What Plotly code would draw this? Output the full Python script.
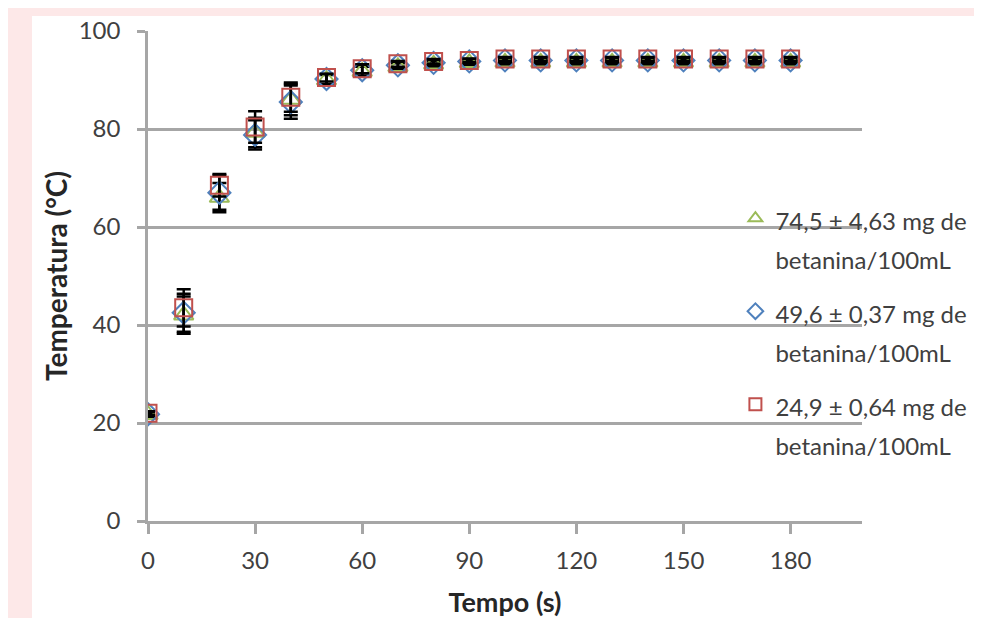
import plotly.graph_objects as go

tempo = [0, 10, 20, 30, 40, 50, 60, 70, 80, 90, 100, 110, 120, 130, 140, 150, 160, 170, 180]

names = [
    "74,5 ± 4,63 mg de<br>betanina/100mL",
    "49,6 ± 0,37 mg de<br>betanina/100mL",
    "24,9 ± 0,64 mg de<br>betanina/100mL",
]
temp_745 = [21.7, 42.0, 66.0, 79.3, 86.0, 90.0, 91.7, 92.7, 93.2, 93.5, 93.6, 93.6, 93.6, 93.6, 93.6, 93.6, 93.6, 93.6, 93.6]
err_745 = [0.4, 3.8, 3.0, 3.0, 3.2, 1.0, 1.0, 0.7, 0.6, 0.5, 0.5, 0.5, 0.5, 0.5, 0.5, 0.5, 0.5, 0.5, 0.5]
temp_496 = [21.8, 42.5, 67.0, 78.8, 85.5, 90.2, 92.0, 93.0, 93.5, 93.8, 94.0, 94.0, 94.0, 94.0, 94.0, 94.0, 94.0, 94.0, 94.0]
err_496 = [0.4, 3.9, 3.5, 3.0, 3.4, 1.0, 1.1, 0.7, 0.6, 0.5, 0.5, 0.5, 0.5, 0.5, 0.5, 0.5, 0.5, 0.5, 0.5]
temp_249 = [22.0, 43.5, 68.5, 80.4, 86.5, 90.5, 92.3, 93.3, 93.8, 94.0, 94.3, 94.3, 94.3, 94.3, 94.3, 94.3, 94.3, 94.3, 94.3]
err_249 = [0.4, 3.8, 2.3, 3.2, 3.0, 0.8, 0.9, 0.6, 0.5, 0.4, 0.4, 0.4, 0.4, 0.4, 0.4, 0.4, 0.4, 0.4, 0.4]

series = [
    (names[0], temp_745, err_745, "triangle-up-open", "#9bbb59"),
    (names[1], temp_496, err_496, "diamond-open", "#4f81bd"),
    (names[2], temp_249, err_249, "square-open", "#c0504d"),
]

FONT = "Lato, Open Sans, sans-serif"

fig = go.Figure()
for i, (nm, ys, es, sym, col) in enumerate(series):
    label = "<br>".join("<span style='font-size:24px'>%s</span>" % part for part in nm.split("<br>"))
    fig.add_trace(go.Scatter(
        x=tempo, y=ys, mode="markers", name=label, legendgroup="g%d" % i,
        marker=dict(symbol=sym, size=17, color=col, line=dict(width=2, color=col)),
        error_y=dict(type="data", array=es, visible=True, color="black", thickness=2.5, width=7),
    ))

fig.update_layout(
    width=974, height=610,
    margin=dict(l=140, r=120, t=23, b=97, autoexpand=False),
    paper_bgcolor="#fde8e8",
    plot_bgcolor="white",
    font=dict(family=FONT, color="#404040", size=24),
    showlegend=True,
    legend=dict(
        x=0.8227, xanchor="left", y=0.671, yanchor="top",
        bgcolor="rgba(0,0,0,0)", font=dict(size=30, color="#404040", family=FONT),
        tracegroupgap=12, valign="top", itemsizing="constant",
    ),
    shapes=[dict(type="rect", xref="paper", yref="paper",
                 x0=-0.1625, x1=1.3, y0=-0.3, y1=1.0306,
                 fillcolor="white", line=dict(width=0), layer="below")],
)
fig.update_xaxes(
    range=[0, 200], tickvals=[0, 30, 60, 90, 120, 150, 180],
    showgrid=False, showline=True, linecolor="#a6a6a6", linewidth=2.5,
    ticks="outside", ticklen=10, tickwidth=2.5, tickcolor="#a6a6a6",
    tickfont=dict(size=24, color="#404040"), ticklabelstandoff=6,
    title=dict(text="<b>Tempo (s)</b>", font=dict(size=27, color="#262626"), standoff=31),
    zeroline=False,
)
fig.update_yaxes(
    range=[0, 100], tickvals=[0, 20, 40, 60, 80, 100],
    showgrid=True, gridcolor="#a6a6a6", gridwidth=2.5,
    showline=True, linecolor="#a6a6a6", linewidth=2.5,
    ticks="outside", ticklen=8, tickwidth=2.5, tickcolor="#a6a6a6",
    tickfont=dict(size=24, color="#404040"), ticklabelstandoff=12,
    title=dict(text="<b>Temperatura (°C)</b>", font=dict(size=28, color="#262626"), standoff=3),
    zeroline=False,
)

fig.write_html("out.html")
